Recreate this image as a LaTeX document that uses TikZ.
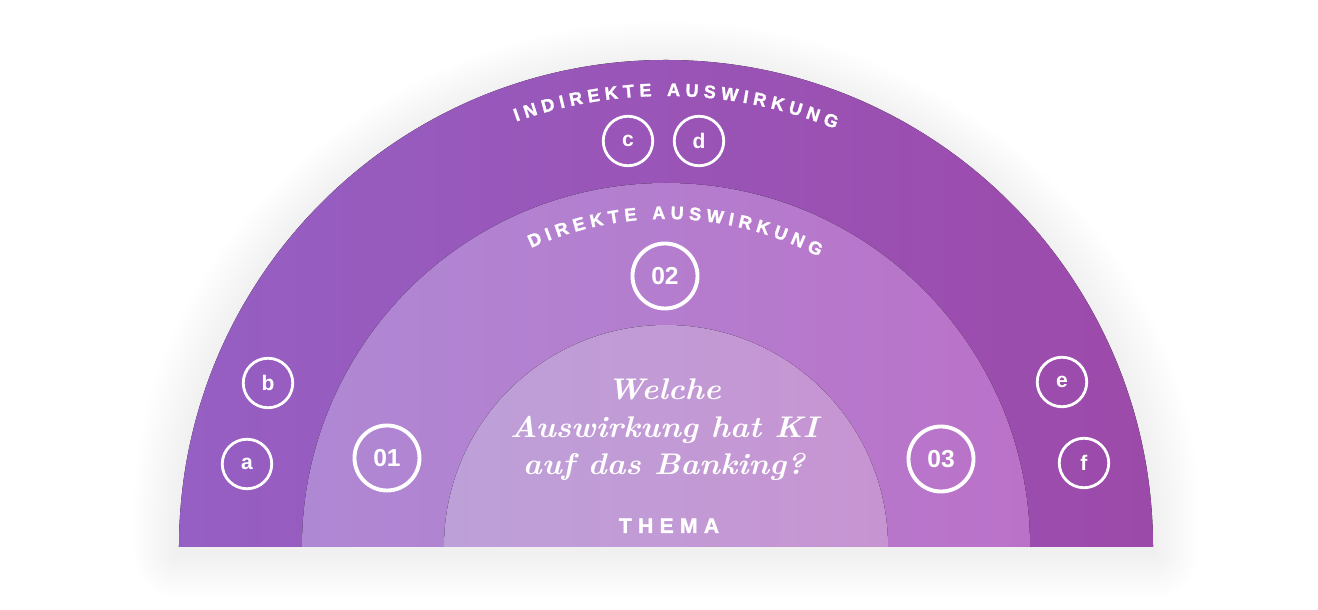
\documentclass[tikz,border=0pt]{standalone}
\usepackage{fontspec}
\usepackage{tikz}
\usetikzlibrary{decorations.text}
\setsansfont{Liberation Sans}
\newfontfamily\trackfont{Liberation Sans}[LetterSpace=30, FakeBold=1.5]
\newfontfamily\capfont{Liberation Sans}[FakeBold=1.5]
\newfontfamily\askfont{lmroman10-bolditalic}[Extension=.otf, FakeStretch=1.07]
\definecolor{outerL}{HTML}{965FC3}
\definecolor{outerR}{HTML}{9C4AAA}
\definecolor{midL}{HTML}{AF88D4}
\definecolor{midR}{HTML}{BA72C9}
\definecolor{innL}{HTML}{BDA0D8}
\definecolor{innR}{HTML}{C794D2}
\tikzset{
  ring/.style={circle, draw=white, line width=1.6pt, minimum size=9.9mm, inner sep=0pt,
    text=white, font=\sffamily\bfseries\fontsize{12}{12}\selectfont},
  numring/.style={circle, draw=white, line width=2.2pt, minimum size=13mm, inner sep=0pt,
    text=white, font=\sffamily\bfseries\fontsize{14}{14}\selectfont},
  arclab/.style={decorate, decoration={text along path, text align=center, text color=white,
    text={|\capfont\bfseries\fontsize{10.3}{10}\selectfont\kern2.9pt|#1}}},
  haze/.style={fill=black, opacity=0.0045},
}
\begin{document}
\begin{tikzpicture}[x=0.2mm, y=0.2mm]
  \useasboundingbox[fill=white] (-666,-63) rectangle (652,547);
  % soft shadow
  \foreach \d [evaluate=\d as \R using 487+\d, evaluate=\d as \rc using 0.2*\d] in {3,6,...,45}
    \fill[haze, shift={(0,-6)}, rounded corners=\rc mm] (-\R,0) -- (-\R,-\d) -- (\R,-\d) -- (\R,0) arc[start angle=0, end angle=180, radius=\R] -- cycle;
  % three half rings
  \fill[left color=outerL, right color=outerR] (-487,0) arc[start angle=180, end angle=0, radius=487] -- cycle;
  \fill[left color=midL, right color=midR] (-364,0) arc[start angle=180, end angle=0, radius=364] -- cycle;
  \fill[left color=innL, right color=innR] (-222,0) arc[start angle=180, end angle=0, radius=222] -- cycle;
  % ring titles
  \path[arclab={INDIREKTE AUSWIRKUNG}] (130:451) arc[start angle=130, end angle=48, radius=451];
  \path[arclab={DIREKTE AUSWIRKUNG}] (130:328) arc[start angle=130, end angle=47.4, radius=328];
  % markers
  \foreach \N/\x/\y in {01/-279/89, 02/-1/271, 03/275/88}
    \node[numring] (n\N) at (\x,\y) {\N};
  \foreach \L/\x/\y in {a/-419/83, b/-398/164, c/-38/406, d/33/406, e/396/165, f/418/84}
    \node[ring] (\L) at (\x,\y) {\L};
  % topic
  \node[align=center, text=white, font=\askfont\fontsize{17}{21.3}\selectfont] (ask) at (-2,117)
    {Welche\\Auswirkung hat KI\\auf das Banking?};
  \node[anchor=base, text=white, font=\trackfont\bfseries\fontsize{12}{12}\selectfont] (thema) at (3,14) {THEMA};
\end{tikzpicture}
\end{document}
